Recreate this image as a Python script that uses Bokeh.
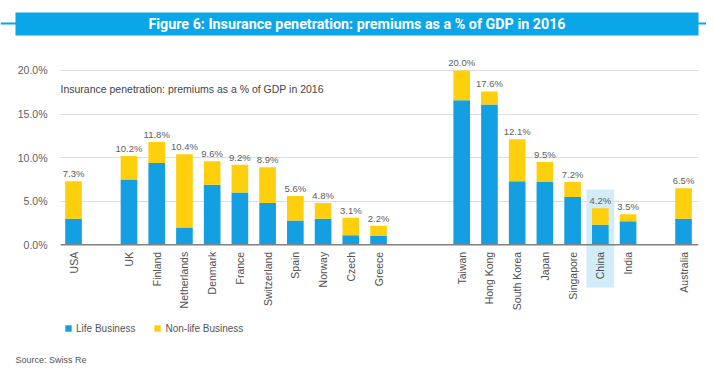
import math
from bokeh.plotting import figure
from bokeh.layouts import column, row
from bokeh.models import (ColumnDataSource, Range1d, FixedTicker, PrintfTickFormatter,
                          Span, Legend, LegendItem, Label)
from bokeh.core.properties import value
from bokeh.embed import file_html
from bokeh.resources import INLINE

# ---------------- data ----------------
countries = ["USA", "UK", "Finland", "Netherlands", "Denmark", "France", "Switzerland",
             "Spain", "Norway", "Czech", "Greece", "Taiwan", "Hong Kong", "South Korea",
             "Japan", "Singapore", "China", "India", "Australia"]
slots = [0, 2, 3, 4, 5, 6, 7, 8, 9, 10, 11, 14, 15, 16, 17, 18, 19, 20, 22]
total = [7.3, 10.2, 11.8, 10.4, 9.6, 9.2, 8.9, 5.6, 4.8, 3.1, 2.2,
         20.0, 17.6, 12.1, 9.5, 7.2, 4.2, 3.5, 6.5]
life = [3.0, 7.5, 9.4, 2.0, 6.9, 6.0, 4.8, 2.8, 3.0, 1.1, 1.0,
        16.6, 16.1, 7.3, 7.2, 5.5, 2.3, 2.7, 3.0]
highlight = "China"
y_ticks = [0, 5, 10, 15, 20]

title = "Figure 6: Insurance penetration: premiums as a % of GDP in 2016"
subtitle = "Insurance penetration: premiums as a % of GDP in 2016"
series_names = ["Life Business", "Non-life Business"]
source_note = "Source: Swiss Re"

BLUE = "#139fe2"
YELLOW = "#fdcf0c"
HEAD = "#0aa6e8"
FONT = "Liberation Sans"

W = 706

# ---------------- header ----------------
hdr = figure(width=W, height=44, x_range=Range1d(0, W), y_range=Range1d(0, 44),
             output_backend="svg", toolbar_location=None, min_border=0,
             x_axis_location=None, y_axis_location=None)
hdr.grid.visible = False
hdr.outline_line_color = None
hdr.segment(x0=[0], y0=[21], x1=[W], y1=[21], line_color=HEAD, line_width=2)
hdr.quad(left=[15], right=[698], bottom=[9], top=[32], fill_color=HEAD, line_color=None)
hdr.text(x=[356.5], y=[20.5], text=[title], text_color="white",
         text_font=value("Roboto"), text_font_style="bold",
         text_font_size="14.3px", text_align="center", text_baseline="middle")

# ---------------- main chart ----------------
nonlife = [t - l for t, l in zip(total, life)]
src = ColumnDataSource(dict(x=slots, life=life, total=total, nonlife=nonlife,
                            name=countries, lab=["%.1f%%" % t for t in total]))

p = figure(width=W, height=301, x_range=Range1d(-0.47, 22.54), y_range=Range1d(-11.55, 21.72),
           output_backend="svg", toolbar_location=None, x_axis_location=None,
           min_border_left=60, min_border_right=8, min_border_top=11, min_border_bottom=0)
p.outline_line_color = None
p.xgrid.visible = False
p.ygrid.ticker = FixedTicker(ticks=y_ticks)
p.ygrid.grid_line_color = "#dcdcdc"
p.ygrid.grid_line_width = 1
yax = p.yaxis[0]
yax.ticker = FixedTicker(ticks=y_ticks)
yax.formatter = PrintfTickFormatter(format="%.1f%%")
yax.axis_line_color = None
yax.major_tick_line_color = None
yax.minor_tick_line_color = None
yax.major_tick_out = 0
yax.major_tick_in = 0
yax.major_label_standoff = 13
yax.major_label_text_font = FONT
yax.major_label_text_font_size = "10.5px"
yax.major_label_text_color = "#606060"

# highlight box behind China
hi = slots[countries.index(highlight)]
hi_top = total[countries.index(highlight)]
p.quad(left=[hi - 0.5], right=[hi + 0.5], bottom=[-4.9], top=[hi_top + 2.15],
       fill_color="#d3ecf9", line_color=None)

r_life = p.vbar(x="x", bottom=0, top="life", width=0.6, source=src,
                fill_color=BLUE, line_color=None)
r_non = p.vbar(x="x", bottom="life", top="total", width=0.6, source=src,
               fill_color=YELLOW, line_color=None)

p.add_layout(Span(location=0, dimension="width", line_color="#808080", line_width=1.5))

p.text(x="x", y="total", text="lab", source=src, text_align="center",
       text_baseline="bottom", y_offset=-2, text_font=value(FONT),
       text_font_size="9.5px", text_color="#606060")

p.text(x="x", y=0, text="name", source=src, angle=math.pi / 2, text_align="right",
       text_baseline="middle", y_offset=7, text_font=value(FONT),
       text_font_size="10.5px", text_color="#505050")

p.add_layout(Label(x=-0.47, y=17.82, text=subtitle, text_baseline="middle",
                   text_font=FONT, text_font_size="10.5px", text_color="#444444"))

legend = Legend(items=[LegendItem(label=series_names[0], renderers=[r_life]),
                       LegendItem(label=series_names[1], renderers=[r_non])],
                location=(4, 11), orientation="horizontal", padding=0, margin=0,
                glyph_width=8, glyph_height=8, label_height=12, label_standoff=4,
                spacing=18, border_line_color=None, background_fill_alpha=0,
                label_text_font=FONT, label_text_font_size="10px",
                label_text_color="#555555")
p.add_layout(legend)

# ---------------- footer ----------------
ftr = figure(width=W, height=25, x_range=Range1d(0, W), y_range=Range1d(0, 25),
             output_backend="svg", toolbar_location=None, min_border=0,
             x_axis_location=None, y_axis_location=None)
ftr.grid.visible = False
ftr.outline_line_color = None
ftr.text(x=[15], y=[11], text=[source_note], text_baseline="middle",
         text_font=value(FONT), text_font_size="9px", text_color="#555555")

layout = column(row(hdr), p, row(ftr), spacing=0)
open("out.html", "w").write(file_html(layout, INLINE))
